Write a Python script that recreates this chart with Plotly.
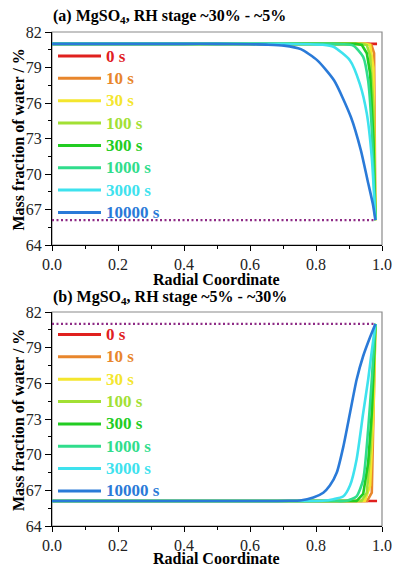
import plotly.graph_objects as go

W, H = 395, 566

# ---------------- data ----------------
times = ["0 s", "10 s", "30 s", "100 s", "300 s", "1000 s", "3000 s", "10000 s"]
colors = ["#E0201E", "#E8862C", "#F4E62E", "#A2E034", "#22CC22", "#30DD8C", "#3EE2EE", "#2A7AD8"]
dot_color = "#8E2C86"

# Panel (a): RH stage ~30% -> ~5%  (drying, surface drops to equilibrium)
a_x = [
    [0.0, 0.985],
    [0.0, 0.96, 0.968, 0.976, 0.98],
    [0.0, 0.95, 0.964, 0.974, 0.98],
    [0.0, 0.94, 0.954, 0.964, 0.974, 0.98],
    [0.0, 0.92, 0.939, 0.954, 0.964, 0.974, 0.98],
    [0.0, 0.85, 0.88, 0.913, 0.943, 0.958, 0.968, 0.98],
    [0.0, 0.7, 0.78, 0.82, 0.853, 0.903, 0.933, 0.954, 0.969, 0.98],
    [0.0, 0.4, 0.5, 0.6, 0.65, 0.703, 0.754, 0.804, 0.855, 0.906, 0.936, 0.956, 0.972, 0.98],
]
a_y = [
    [81.0, 81.0],
    [81.0, 81.0, 80.9, 80.2, 66.1],
    [81.0, 81.0, 80.9, 79.0, 66.1],
    [81.0, 81.0, 80.9, 80.0, 75.7, 66.1],
    [81.0, 81.0, 80.9, 80.2, 78.5, 72.9, 66.1],
    [81.0, 81.0, 80.97, 80.85, 79.9, 77.9, 74.3, 66.1],
    [81.0, 81.0, 80.97, 80.92, 80.75, 79.6, 77.6, 75.1, 71.4, 66.1],
    [81.0, 81.0, 81.0, 80.97, 80.93, 80.85, 80.55, 79.6, 77.9, 74.8, 72.0, 69.5, 67.5, 66.1],
]
a_eq_x = [0.0, 0.98]
a_eq_y = [66.1, 66.1]

# Panel (b): RH stage ~5% -> ~30%  (wetting, surface rises to equilibrium)
b_x = [
    [0.0, 0.985],
    [0.0, 0.955, 0.969, 0.98],
    [0.0, 0.948, 0.964, 0.974, 0.98],
    [0.0, 0.938, 0.954, 0.966, 0.98],
    [0.0, 0.923, 0.943, 0.958, 0.969, 0.98],
    [0.0, 0.85, 0.893, 0.923, 0.943, 0.958, 0.969, 0.98],
    [0.0, 0.75, 0.82, 0.853, 0.883, 0.903, 0.923, 0.943, 0.958, 0.968, 0.98],
    [0.0, 0.5, 0.65, 0.72, 0.752, 0.792, 0.822, 0.842, 0.863, 0.883, 0.903, 0.923, 0.943, 0.964, 0.98],
]
b_y = [
    [66.1, 66.1],
    [66.1, 66.1, 66.8, 81.0],
    [66.1, 66.1, 67.4, 73.5, 81.0],
    [66.1, 66.1, 66.8, 70.7, 81.0],
    [66.1, 66.1, 66.7, 69.3, 73.5, 81.0],
    [66.1, 66.1, 66.12, 66.5, 67.9, 72.1, 76.3, 81.0],
    [66.1, 66.1, 66.12, 66.25, 66.5, 67.4, 69.6, 73.5, 76.3, 78.5, 81.0],
    [66.1, 66.1, 66.1, 66.12, 66.15, 66.4, 66.8, 67.4, 68.5, 70.7, 73.5, 76.3, 78.3, 79.9, 81.0],
]
b_eq_x = [0.0, 0.98]
b_eq_y = [81.0, 81.0]

titles = ["(a) MgSO<sub>4</sub>, RH stage ~30% - ~5%",
          "(b) MgSO<sub>4</sub>, RH stage ~5% - ~30%"]
x_title = "Radial Coordinate"
y_title = "Mass fraction of water / %"
x_range = [0.0, 1.0]
y_range = [64, 82]
x_ticks = [0.0, 0.2, 0.4, 0.6, 0.8, 1.0]
y_ticks = [64, 67, 70, 73, 76, 79, 82]

# ---------------- layout geometry (pixels) ----------------
FONT = "Liberation Serif"
px = lambda v: v / W
py = lambda v: 1 - v / H
X_DOM = [px(52), px(382)]
PANELS = [
    dict(top=32, bottom=245, xa="x", ya="y", legend_top=56),
    dict(top=312, bottom=526, xa="x2", ya="y2", legend_top=334.5),
]
LEG_STEP = 22.35
SMOOTH = {"1000 s", "3000 s", "10000 s"}

fig = go.Figure()

datasets = [(a_x, a_y, a_eq_x, a_eq_y), (b_x, b_y, b_eq_x, b_eq_y)]
for p, (xs, ys, ex, ey) in zip(PANELS, datasets):
    fig.add_trace(go.Scatter(x=ex, y=ey, mode="lines", xaxis=p["xa"], yaxis=p["ya"],
                             line=dict(color=dot_color, width=2.2, dash="2px,2.5px"),
                             showlegend=False, hoverinfo="skip"))
    for name, c, xv, yv in zip(times, colors, xs, ys):
        shape = dict(shape="spline", smoothing=0.6) if name in SMOOTH else dict(shape="linear")
        fig.add_trace(go.Scatter(x=xv, y=yv, mode="lines", name=name,
                                 xaxis=p["xa"], yaxis=p["ya"],
                                 line=dict(color=c, width=2.6, **shape),
                                 showlegend=False))

axis_common = dict(
    showline=True, linecolor="black", linewidth=1.3, automargin=False,
    ticks="outside", tickcolor="black", ticklen=5, tickwidth=1.2,
    showgrid=False, zeroline=False,
    tickfont=dict(family=FONT, size=16, color="#222"),
)
layout = dict(
    template="none",
    width=W, height=H, margin=dict(l=0, r=0, t=0, b=0, autoexpand=False),
    paper_bgcolor="white", plot_bgcolor="white", showlegend=False,
    font=dict(family=FONT, color="black"),
)
for i, p in enumerate(PANELS):
    sfx = "" if i == 0 else "2"
    ydom = [py(p["bottom"]), py(p["top"])]
    layout["xaxis" + sfx] = dict(axis_common, range=x_range, domain=X_DOM,
                                 anchor="y" + sfx, tickvals=x_ticks, tickformat=".1f",
                                 minor=dict(ticks="outside", dtick=0.1, ticklen=3,
                                            tickcolor="black", tickwidth=1))
    layout["yaxis" + sfx] = dict(axis_common, range=y_range, domain=ydom,
                                 anchor="x" + sfx, tickvals=y_ticks, ticklen=6,
                                 minor=dict(ticks="outside", dtick=1.5, tick0=64,
                                            ticklen=3, tickcolor="black", tickwidth=1))
fig.update_layout(**layout)

shapes = []
annotations = []
for i, p in enumerate(PANELS):
    sfx = "" if i == 0 else "2"
    # grey frame (top/right)
    shapes.append(dict(type="rect", xref=f"x{sfx} domain", yref=f"y{sfx} domain",
                       x0=0, x1=1, y0=0, y1=1, line=dict(color="#8a8a8a", width=1.2),
                       layer="below"))
    # legend
    for k, (name, c) in enumerate(zip(times, colors)):
        yy = py(p["legend_top"] + k * LEG_STEP)
        shapes.append(dict(type="line", xref="paper", yref="paper",
                           x0=px(58), x1=px(101), y0=yy, y1=yy,
                           line=dict(color=c, width=3)))
        annotations.append(dict(text=f"<b>{name}</b>", xref="paper", yref="paper",
                                x=px(104), y=yy, xanchor="left", yanchor="middle",
                                showarrow=False,
                                font=dict(family=FONT, size=17, color=c)))
    # panel title
    annotations.append(dict(text=f"<b>{titles[i]}</b>", xref="paper", yref="paper",
                            x=px(51), y=py(p["top"] - 15), xanchor="left",
                            yanchor="middle", showarrow=False,
                            font=dict(family=FONT, size=16, color="black")))
    # x title
    annotations.append(dict(text=f"<b>{x_title}</b>", xref="paper", yref="paper",
                            x=px(216), y=py(min(p["bottom"] + 34, H - 8)),
                            xanchor="center", yanchor="middle", showarrow=False,
                            font=dict(family=FONT, size=16, color="black")))
    # y title
    annotations.append(dict(text=f"<b>{y_title}</b>", xref="paper", yref="paper",
                            x=px(18), y=py((p["top"] + p["bottom"]) / 2 + 1),
                            xanchor="center", yanchor="middle", textangle=-90,
                            showarrow=False,
                            font=dict(family=FONT, size=16, color="black")))

fig.update_layout(shapes=shapes, annotations=annotations)
fig.write_html("out.html", config={"displayModeBar": False},
               post_script="document.body.style.margin='0';document.body.style.overflow='hidden';")
